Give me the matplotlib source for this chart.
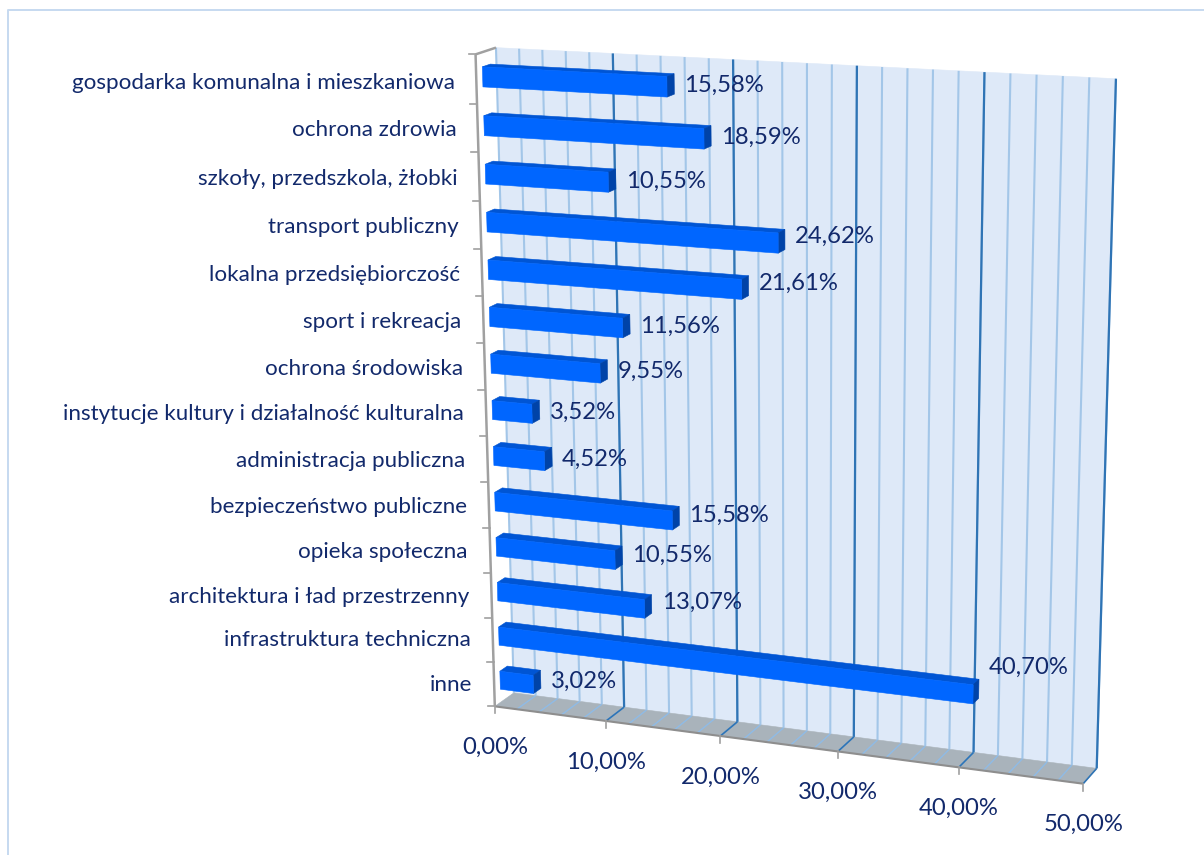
import numpy as np
import matplotlib
matplotlib.use("Agg")
import matplotlib.pyplot as plt
from matplotlib.patches import Polygon

# ---- data ----
categories = ["gospodarka komunalna i mieszkaniowa", "ochrona zdrowia", "szkoły, przedszkola, żłobki",
              "transport publiczny", "lokalna przedsiębiorczość", "sport i rekreacja", "ochrona środowiska",
              "instytucje kultury i działalność kulturalna", "administracja publiczna", "bezpieczeństwo publiczne",
              "opieka społeczna", "architektura i ład przestrzenny", "infrastruktura techniczna", "inne"]
values = [15.58, 18.59, 10.55, 24.62, 21.61, 11.56, 9.55, 3.52, 4.52, 15.58, 10.55, 13.07, 40.70, 3.02]
x_ticks = [0, 10, 20, 30, 40, 50]

# ---- layout ----
label_dy = [1, 2, 2, -3, -2, 2, 2, 3, 3, 0, 0, -2, -21, 2]
cat_label_y = [83, 130, 179, 227, 275, 322, 369, 414, 461, 507, 552, 597, 640, 685]
W, H = 1204, 855
TXT = "#12296b"
plt.rcParams['font.family'] = ['Lato', 'DejaVu Sans']
FS = 17.2

# calibration of the chart's perspective: (value, depth, height) -> pixel
calib = [((0,1,1),(497,48)), ((50,1,1),(1116,79)), ((50,1,0),(1097,768)), ((0,1,0),(513,694)),
         ((0,0,0),(495,707)), ((50,0,0),(1083,785)), ((0,0,1),(475,54)),
         ((10,1,0),(624,707)), ((20,1,0),(737,722)), ((40,1,0),(973,752)),
         ((10,0,0),(607,720)), ((20,0,0),(721,736)), ((40,0,0),(959,767)),
         ((10,1,1),(614,53)), ((20,1,1),(733,59)), ((40,1,1),(984,72)),
         ((0,0,13/14),(476.5,104)), ((0,0,12/14),(478,153)), ((0,0,11/14),(479.5,201)), ((0,0,1/14),(493.5,661))]
A = []
for (X, Y, Z), (u, v) in calib:
    p = [X/50, Y, Z, 1]
    A.append(p + [0]*4 + [-u*c for c in p])
    A.append([0]*4 + p + [-v*c for c in p])
M = np.linalg.svd(np.array(A, float))[2][-1].reshape(3, 4)

def proj(x, d, z):
    h = M @ np.array([x/50, d, z, 1.0])
    return h[0]/h[2], h[1]/h[2]

fig = plt.figure(figsize=(W/100, H/100), dpi=100)
ax = fig.add_axes([0, 0, 1, 1])
ax.set_xlim(0, W); ax.set_ylim(H, 0); ax.axis('off')

def face(pts, color, z=2):
    ax.add_patch(Polygon([proj(*p) for p in pts], closed=True, fc=color, ec=color, lw=0.4, zorder=z))

def seg(a, b, color, lw, z=3):
    pa, pb = proj(*a), proj(*b)
    ax.plot([pa[0], pb[0]], [pa[1], pb[1]], color=color, lw=lw, zorder=z, solid_capstyle='butt')

# frame
ax.plot([8, 8, W], [H, 10, 10], color="#c6d9f0", lw=1.4, zorder=0)

# walls
face([(0,1,0),(50,1,0),(50,1,1),(0,1,1)], "#dee9f8", 1)
face([(0,0,0),(50,0,0),(50,1,0),(0,1,0)], "#a9b3bb", 1)

# gridlines
for g in range(0, 51, 2):
    seg((g,1,0),(g,1,1), "#a3c6e8", 1.5)
    if 0 < g < 50:
        seg((g,0,0),(g,1,0), "#8fbbe6", 1.0)
for g in x_ticks:
    if g > 0:
        seg((g,1,0),(g,1,1), "#2f74b5", 1.6, 4)
        seg((g,0,0),(g,1,0), "#2f74b5", 1.2, 4)

# axes
GREY = "#a0a0a0"
seg((0,0,0),(50,0,0), "#8e8e8e", 1.5, 8)
seg((0,0,0),(0,0,1), GREY, 1.8, 8)
seg((0,0,1),(0,1,1), GREY, 1.8, 8)
for g in x_ticks:
    px, py = proj(g, 0, 0)
    ax.plot([px, px], [py, py+7], color=GREY, lw=1.2, zorder=8)
    ax.text(px, py+41, f"{g:.2f}%".replace(".", ","), ha='center', va='center', color=TXT, fontsize=FS)
n = len(categories)
for k in range(n+1):
    px, py = proj(0, 0, k/n)
    ax.plot([px-7, px], [py, py], color=GREY, lw=1.2, zorder=8)

# bars
D0, D1 = 0.31, 0.70
BAR = 0.41
for i, (name, val) in enumerate(zip(categories, values)):
    zc = (n - i - 0.5)/n
    z0, z1 = zc - BAR/(2*n), zc + BAR/(2*n)
    zo = 10 + i
    face([(0,D0,z1),(val,D0,z1),(val,D1,z1),(0,D1,z1)], "#0055d4", zo)
    face([(val,D0,z0),(val,D1,z0),(val,D1,z1),(val,D0,z1)], "#0043a8", zo)
    face([(0,D0,z0),(val,D0,z0),(val,D0,z1),(0,D0,z1)], "#0066ff", zo)
    ex, ey = proj(val, D1, zc)
    ax.text(ex+10, ey+label_dy[i], f"{val:.2f}%".replace(".", ","), ha='left', va='center',
            color=TXT, fontsize=FS, zorder=40)
    ax.text(455 + i*1.3, cat_label_y[i], name, ha='right', va='center', color=TXT, fontsize=FS*0.936, zorder=40)

fig.savefig("out.png", dpi=100)
